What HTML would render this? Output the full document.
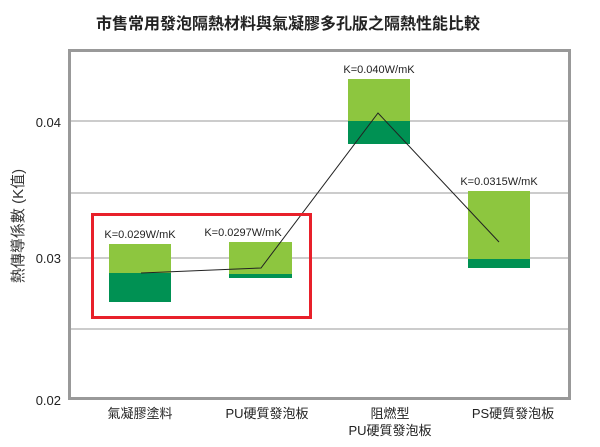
<!DOCTYPE html>
<html><head><meta charset="utf-8"><style>
body{margin:0;background:#fff;}
svg{display:block;}
text{font-family:"Liberation Sans","Noto Sans CJK TC",sans-serif;}
</style></head><body>
<svg width="600" height="447" viewBox="0 0 600 447">
<text x="288" y="29" text-anchor="middle" font-size="16" font-weight="bold" fill="#222">市售常用發泡隔熱材料與氣凝膠多孔版之隔熱性能比較</text>
<g stroke="#999" stroke-width="1">
<line x1="70" y1="121" x2="569" y2="121"/>
<line x1="70" y1="193" x2="569" y2="193"/>
<line x1="70" y1="258" x2="569" y2="258"/>
<line x1="70" y1="329" x2="569" y2="329"/>
</g>
<rect x="109" y="244" width="62" height="29" fill="#8dc63f"/>
<rect x="109" y="273" width="62" height="29" fill="#009153"/>
<rect x="229" y="242" width="63" height="32" fill="#8dc63f"/>
<rect x="229" y="274" width="63" height="4" fill="#009153"/>
<rect x="348" y="79" width="62" height="42" fill="#8dc63f"/>
<rect x="348" y="121" width="62" height="23" fill="#009153"/>
<rect x="468" y="191" width="62" height="68" fill="#8dc63f"/>
<rect x="468" y="259" width="62" height="9" fill="#009153"/>
<polyline points="141,273 261,268 378,113 499,242" fill="none" stroke="#222" stroke-width="1"/>
<rect x="92.5" y="214.5" width="218" height="103" fill="none" stroke="#e8202a" stroke-width="3"/>
<rect x="69.5" y="50.5" width="500" height="348" fill="none" stroke="#999" stroke-width="3"/>
<g font-size="11" fill="#222" text-anchor="middle">
<text x="140" y="238">K=0.029W/mK</text>
<text x="243" y="236">K=0.0297W/mK</text>
<text x="379" y="73">K=0.040W/mK</text>
<text x="499" y="185">K=0.0315W/mK</text>
</g>
<g font-size="13" fill="#222" text-anchor="end">
<text x="61" y="127">0.04</text>
<text x="61" y="263">0.03</text>
<text x="61" y="405">0.02</text>
</g>
<text transform="translate(23,226) rotate(-90)" text-anchor="middle" font-size="15" fill="#333">熱傳導係數 (K值)</text>
<g font-size="13" fill="#222" text-anchor="middle">
<text x="140" y="418">氣凝膠塗料</text>
<text x="267" y="418">PU硬質發泡板</text>
<text x="390" y="418">阻燃型</text>
<text x="390" y="435">PU硬質發泡板</text>
<text x="513" y="418">PS硬質發泡板</text>
</g>
</svg>
</body></html>
